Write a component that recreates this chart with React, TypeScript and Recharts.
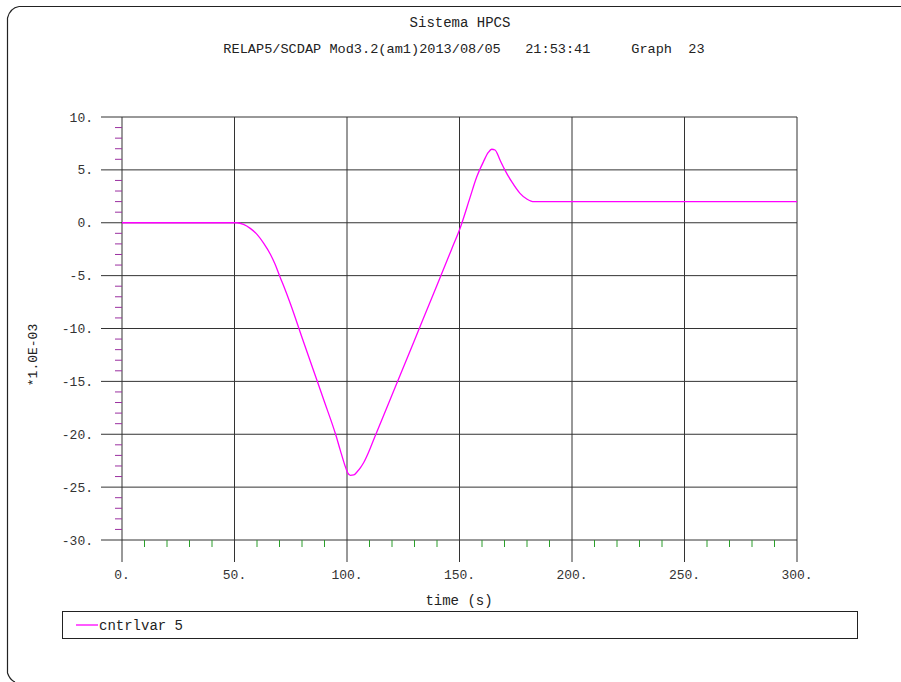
import React from 'react';
import { LineChart, Line, XAxis, YAxis, ReferenceLine } from 'recharts';

const timeS = [0, 20, 40, 51, 54, 57, 60, 63, 66, 68, 70.2, 72, 75, 80, 85, 90, 95, 97, 99, 100.3, 101.5, 103, 104.5, 106, 107.5, 109.5, 111.7, 116, 120, 130, 140, 146.5, 150.5, 154.7, 157.6, 160.6, 162.8, 164.3, 165.8, 168, 170.2, 173.2, 176.9, 179.9, 181.8, 183, 200, 250, 300];
const cntrlvar5 = [0, 0, 0, 0, -0.15, -0.53, -1.1, -1.95, -3.0, -3.9, -5.1, -6.05, -7.75, -10.85, -13.9, -16.95, -20.05, -21.5, -22.9, -23.65, -23.88, -23.85, -23.55, -23.15, -22.65, -21.75, -20.6, -18.36, -16.3, -11.1, -5.9, -2.5, -0.37, 2.4, 4.3, 5.75, 6.65, 6.95, 6.88, 5.93, 4.98, 3.88, 2.78, 2.24, 2.05, 2.0, 2.0, 2.0, 2.0];

const yTicks: number[] = [];
for (let v = -30; v <= 10; v += 1) yTicks.push(v);
const xTicks: number[] = [];
for (let v = 0; v <= 300; v += 10) xTicks.push(v);
const yMajor = [-30, -25, -20, -15, -10, -5, 0, 5, 10];
const xMajor = [0, 50, 100, 150, 200, 250, 300];

const titleText = 'Sistema HPCS';
const subtitleText = 'RELAP5/SCDAP Mod3.2(am1)2013/08/05   21:53:41     Graph  23';
const xLabel = 'time (s)';
const yLabel = '*1.0E-03';
const seriesName = 'cntrlvar 5';

const data = timeS.map((t, i) => ({ t, v: cntrlvar5[i] }));

const FONT = '"Liberation Mono", "DejaVu Sans Mono", monospace';
const GRID = '#333';

const YTick = (props: any) => {
  const { x, y, payload } = props;
  const v = payload.value;
  if (v % 5 === 0) {
    return (
      <g>
        <line x1={x - 21} y1={y} x2={x} y2={y} stroke={GRID} strokeWidth={1} />
        <text x={x - 29} y={y} dy="0.35em" textAnchor="end" fontFamily={FONT} fontSize={13} fill="#333">
          {`${v}.`}
        </text>
      </g>
    );
  }
  return <line x1={x - 7} y1={y} x2={x} y2={y} stroke="#9b30a0" strokeWidth={1} />;
};

const XTick = (props: any) => {
  const { x, y, payload } = props;
  const v = payload.value;
  if (v % 50 === 0) {
    return (
      <g>
        <line x1={x} y1={y} x2={x} y2={y + 22} stroke={GRID} strokeWidth={1} />
        <text x={x} y={y + 39} textAnchor="middle" fontFamily={FONT} fontSize={13} fill="#333">
          {`${v}.`}
        </text>
      </g>
    );
  }
  return <line x1={x} y1={y} x2={x} y2={y + 7} stroke="#2a9d2a" strokeWidth={1} />;
};

export default function App() {
  return (
    <div style={{ position: 'absolute', left: 0, top: 0, width: 901, height: 682, background: '#fff' }}>
      <svg width={901} height={682} style={{ position: 'absolute', left: 0, top: 0 }}>
        <path d="M 19 6.5 L 901 6.5 M 19 6.5 Q 10 8 7.5 18 L 7.5 673 Q 10 680 15 682" fill="none" stroke="#222" strokeWidth={1.2} />
        <text x={460} y={27} textAnchor="middle" fontFamily={FONT} fontSize={14} fill="#222" style={{ whiteSpace: 'pre' }}>
          {titleText}
        </text>
        <text x={464} y={53} textAnchor="middle" fontFamily={FONT} fontSize={13.6} fill="#222" style={{ whiteSpace: 'pre' }}>
          {subtitleText}
        </text>
        <text x={459} y={605} textAnchor="middle" fontFamily={FONT} fontSize={14} fill="#222">
          {xLabel}
        </text>
        <text x={37} y={355} textAnchor="middle" fontFamily={FONT} fontSize={13} fill="#222" transform="rotate(-90 37 355)">
          {yLabel}
        </text>
        <rect x={62.5} y={611.5} width={795} height={27} fill="none" stroke="#222" strokeWidth={1} />
        <line x1={76} y1={625} x2={98} y2={625} stroke="#ff00ff" strokeWidth={1.3} />
        <text x={99} y={630} fontFamily={FONT} fontSize={14} fill="#222">
          {seriesName}
        </text>
      </svg>
      <div style={{ position: 'absolute', left: 0, top: 0 }}>
        <LineChart width={901} height={682} data={data} margin={{ top: 117, right: 104, bottom: 82, left: 62 }}>
          <XAxis
            dataKey="t"
            type="number"
            domain={[0, 300]}
            ticks={xTicks}
            interval={0}
            tick={<XTick />}
            tickLine={false}
            axisLine={false}
            tickSize={0}
            tickMargin={0}
            height={60}
          />
          <YAxis
            type="number"
            domain={[-30, 10]}
            ticks={yTicks}
            interval={0}
            tick={<YTick />}
            tickLine={false}
            axisLine={false}
            tickSize={0}
            tickMargin={0}
            width={60}
          />
          {yMajor.map((v) => (
            <ReferenceLine key={`y${v}`} y={v} stroke={GRID} strokeWidth={1} />
          ))}
          {xMajor.map((v) => (
            <ReferenceLine key={`x${v}`} x={v} stroke={GRID} strokeWidth={1} />
          ))}
          <Line
            dataKey="v"
            type="monotone"
            stroke="#ff00ff"
            strokeWidth={1.3}
            dot={false}
            isAnimationActive={false}
          />
        </LineChart>
      </div>
    </div>
  );
}
